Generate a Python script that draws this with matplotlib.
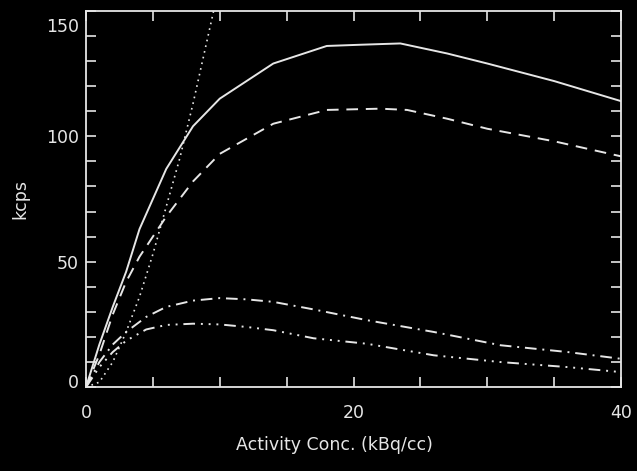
import numpy as np
import matplotlib.pyplot as plt
import matplotlib.transforms as mtransforms
from matplotlib.ticker import MultipleLocator, FixedLocator

# activity concentration (kBq/cc) and count rates (kcps)
x_solid = [0, 1, 2, 3, 4, 6, 8, 10, 14, 18, 20.6, 23.5, 27, 30, 35, 40]
y_solid = [0, 17, 32, 46, 63, 87, 104, 115, 129, 136, 136.5, 137, 133, 129, 122, 114]

x_dash = [0, 1, 2, 3, 4, 6, 8, 10, 14, 18, 22, 24, 27, 30, 35, 40]
y_dash = [0, 13, 29, 42, 52, 68, 82, 93, 105, 110.5, 111, 110.5, 107, 103, 98, 92]

x_dot = [0, 1, 2, 3, 4, 5, 6, 7, 8, 9, 10]
y_dot = [0, 2, 10, 22, 36, 53, 72, 91, 113, 137, 161]

x_dashdot = [0, 1, 2, 3, 4.5, 6, 8, 10, 12, 14, 17, 21, 26, 31, 36, 40]
y_dashdot = [0, 10, 17, 22, 28, 32, 34.5, 35.5, 35, 34, 31, 26.7, 22, 16.7, 14, 11.3]

x_dash3dot = [0, 1, 2, 3, 4.5, 6, 8, 10, 12, 14, 17, 21, 26, 31, 36, 40]
y_dash3dot = [0, 8, 14, 18.5, 23, 24.8, 25.3, 25, 24, 22.7, 19.5, 17.3, 12.7, 10, 8, 6]

xticks = [0, 20, 40]
yticks = [0, 50, 100, 150]

fg = '#e6e6e6'
fs = 12.5
plt.rcParams['font.family'] = 'DejaVu Sans'

fig = plt.figure(figsize=(6.37, 4.71), dpi=100, facecolor='black')
ax = fig.add_axes([0.135, 0.178, 0.84, 0.799], facecolor='black')

lw = 1.4
ax.plot(x_solid, y_solid, color=fg, lw=lw, ls='-')
ax.plot(x_dash, y_dash, color=fg, lw=lw, ls=(0, (6, 4)))
ax.plot(x_dot, y_dot, color=fg, lw=1.2, ls=(0, (1, 2.5)))
ax.plot(x_dashdot, y_dashdot, color=fg, lw=lw, ls=(0, (6, 3, 1, 3)))
ax.plot(x_dash3dot, y_dash3dot, color=fg, lw=lw, ls=(0, (6, 3, 1, 3, 1, 3, 1, 3)))

ax.set_xlim(0, 40)
ax.set_ylim(0, 150)
ax.xaxis.set_major_locator(FixedLocator(xticks))
ax.xaxis.set_minor_locator(MultipleLocator(5))
ax.yaxis.set_major_locator(FixedLocator(yticks))
ax.yaxis.set_minor_locator(MultipleLocator(10))

for s in ax.spines.values():
    s.set_color(fg)
    s.set_linewidth(1.3)

ax.tick_params(which='both', direction='in', top=True, right=True,
               color=fg, width=1.2, length=7, labelcolor=fg, labelsize=fs)
ax.tick_params(axis='x', which='major', pad=12)
ax.tick_params(axis='y', which='major', pad=5)

# IDL style: end labels on the y axis sit inside the range
ylabs = ax.yaxis.get_majorticklabels()
shift = {0: 1, 150: 21}
for lab, v in zip(ylabs, yticks):
    if v in shift:
        lab.set_va('baseline')
        off = mtransforms.ScaledTranslation(0, -shift[v] / 100, fig.dpi_scale_trans)
        lab.set_transform(lab.get_transform() + off)

ax.set_xlabel('Activity Conc. (kBq/cc)', color=fg, fontsize=fs, labelpad=10)
ax.xaxis.label.set_x(0.464)
ax.set_ylabel('kcps', color=fg, fontsize=fs, labelpad=12)

fig.savefig('out.png', dpi=100, facecolor='black')
